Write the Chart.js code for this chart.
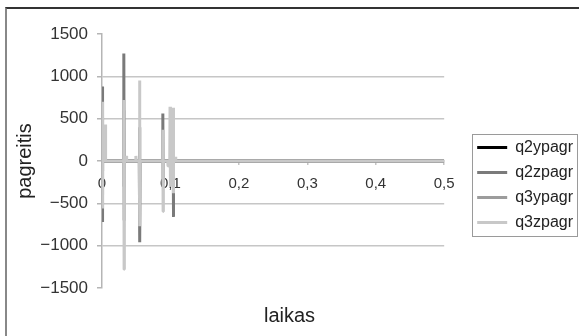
<!DOCTYPE html>
<html>
<head>
<meta charset="utf-8">
<script src="https://cdn.jsdelivr.net/npm/chart.js@4.4.0/dist/chart.umd.min.js"></script>
<style>
  body { margin: 0; background: #fff; }
  #wrap { position: relative; width: 579px; height: 336px; overflow: hidden; }
  #frame { position: absolute; left: 5px; top: 7px; right: -10px; bottom: -10px;
           border-top: 2px solid #333; border-left: 2px solid #888; pointer-events: none; }
  canvas { position: absolute; left: 0; top: 0; }
</style>
</head>
<body>
<div id="wrap">
  <canvas id="chart" width="579" height="336"></canvas>
  <div id="frame"></div>
</div>
<script>
// --- Data ---
const seriesNames = ['q2ypagr', 'q2zpagr', 'q3ypagr', 'q3zpagr'];
const seriesColors = ['#000000', '#7a7a7a', '#9c9c9c', '#c8c8c8'];

const xTickLabels = ['0', '0,1', '0,2', '0,3', '0,4', '0,5'];
const yTickLabels = ['\u22121500', '\u22121000', '\u2212500', '0', '500', '1000', '1500'];

const q2yT = [0, 0.0004, 0.0008, 0.0012, 0.5];
const q2yV = [0, 150, -120, 0, 0];

const q2zT = [0, 0.0004, 0.0008, 0.0012, 0.0315, 0.0319, 0.0323, 0.0327, 0.0545, 0.0549, 0.0553, 0.0557,
              0.0885, 0.0889, 0.0893, 0.0897, 0.1035, 0.1039, 0.1043, 0.1047, 0.5];
const q2zV = [0, 880, -720, 0, 0, 1270, -300, 0, 0, 400, -960, 0,
              0, 560, -250, 0, 0, 300, -660, 0, 0];

const q3yT = [0, 0.0004, 0.0008, 0.0012, 0.0315, 0.0319, 0.0323, 0.0327, 0.5];
const q3yV = [0, 500, -400, 0, 0, 600, -700, 0, 0];

const q3zT = [0, 0.0004, 0.0008, 0.0012, 0.0045, 0.005, 0.0055, 0.0315, 0.0319, 0.0323, 0.0327,
              0.035, 0.0355, 0.036, 0.049, 0.0495, 0.05, 0.0545, 0.0549, 0.0553, 0.0557,
              0.0885, 0.0889, 0.0893, 0.0897, 0.096, 0.0965, 0.097, 0.099, 0.0994, 0.0998, 0.1002,
              0.1035, 0.1039, 0.1043, 0.1047, 0.107, 0.1075, 0.108, 0.5];
const q3zV = [0, 700, -560, 0, 0, 430, 0, 0, 720, -1280, 0,
              0, 60, 0, 0, 60, 0, 0, 950, -770, 0,
              0, 370, -595, 0, 0, -60, 0, 0, 640, -300, 0,
              0, 630, -380, 0, 0, 50, 0, 0];

const seriesT = [q2yT, q2zT, q3yT, q3zT];
const seriesV = [q2yV, q2zV, q3yV, q3zV];

// --- Chart ---
Chart.defaults.font.family = '"Liberation Sans", Arial, sans-serif';
Chart.defaults.color = '#222';

const toPoints = (ts, vs) => ts.map((t, i) => ({ x: t, y: vs[i] }));

// legend sits further right than the plot edge, with a thin box round it
const legendFrame = {
    id: 'legendFrame',
    afterLayout(chart) {
        if (!chart.legend) return;
        chart.legend.left += 24;
        chart.legend.right += 24;
    },
    afterDraw(chart) {
        const boxes = chart.legend && chart.legend.legendHitBoxes;
        if (!boxes || !boxes.length) return;
        const l = Math.min(...boxes.map(b => b.left)) - 5;
        const t = Math.min(...boxes.map(b => b.top)) - 6;
        const r = Math.max(...boxes.map(b => b.left + b.width)) + 4;
        const bt = Math.max(...boxes.map(b => b.top + b.height)) + 5;
        const ctx = chart.ctx;
        ctx.save();
        ctx.strokeStyle = '#9a9a9a';
        ctx.lineWidth = 1;
        ctx.strokeRect(Math.round(l) + 0.5, Math.round(t) + 0.5, Math.round(r - l), Math.round(bt - t));
        ctx.restore();
    }
};

new Chart(document.getElementById('chart'), {
    type: 'line',
    data: {
        datasets: seriesNames.map((name, i) => ({
            label: name,
            data: toPoints(seriesT[i], seriesV[i]),
            borderColor: seriesColors[i],
            backgroundColor: seriesColors[i],
            borderWidth: 3,
            borderJoinStyle: 'bevel',
            pointRadius: 0,
            tension: 0,
            order: seriesNames.length - i
        }))
    },
    options: {
        responsive: false,
        animation: false,
        devicePixelRatio: 1,
        layout: { padding: { top: 34, left: 20, right: 20, bottom: 0 } },
        scales: {
            x: {
                type: 'linear', min: 0, max: 0.5,
                position: { y: 0 },
                ticks: { stepSize: 0.1, autoSkip: false, maxRotation: 0, padding: 11,
                         font: { size: 15 }, color: '#333',
                         callback: (v, i) => xTickLabels[i] },
                grid: { drawOnChartArea: false, tickLength: 3, tickColor: '#c4c4c4', lineWidth: 1.5 },
                border: { color: '#c8c8c8', width: 2 }
            },
            y: {
                min: -1500, max: 1500,
                ticks: { stepSize: 500, padding: 9, font: { size: 17 }, color: '#333',
                         callback: (v, i) => yTickLabels[i] },
                grid: {
                    color: c => (c.tick && (c.tick.value === 0 || Math.abs(c.tick.value) === 1500)) ? 'rgba(0,0,0,0)' : '#c6c6c6',
                    lineWidth: 1.5, tickLength: 5, tickColor: '#b5b5b5'
                },
                border: { color: '#b5b5b5', width: 1.5 },
                title: { display: true, text: 'pagreitis', font: { size: 20 }, color: '#222', padding: { top: -7, bottom: 0 } },
                afterFit: s => { s.width = 82; }
            }
        },
        plugins: {
            legend: {
                position: 'right',
                labels: {
                    usePointStyle: true, pointStyle: 'line', pointStyleWidth: 30,
                    font: { size: 16 }, color: '#222', padding: 9,
                    sort: (a, b) => a.datasetIndex - b.datasetIndex
                }
            },
            title: {
                display: true, position: 'bottom', text: 'laikas',
                font: { size: 20, weight: 'normal' }, color: '#222',
                padding: { top: 16, bottom: 8 }
            },
            tooltip: { enabled: false }
        }
    },
    plugins: [legendFrame]
});
</script>
</body>
</html>
